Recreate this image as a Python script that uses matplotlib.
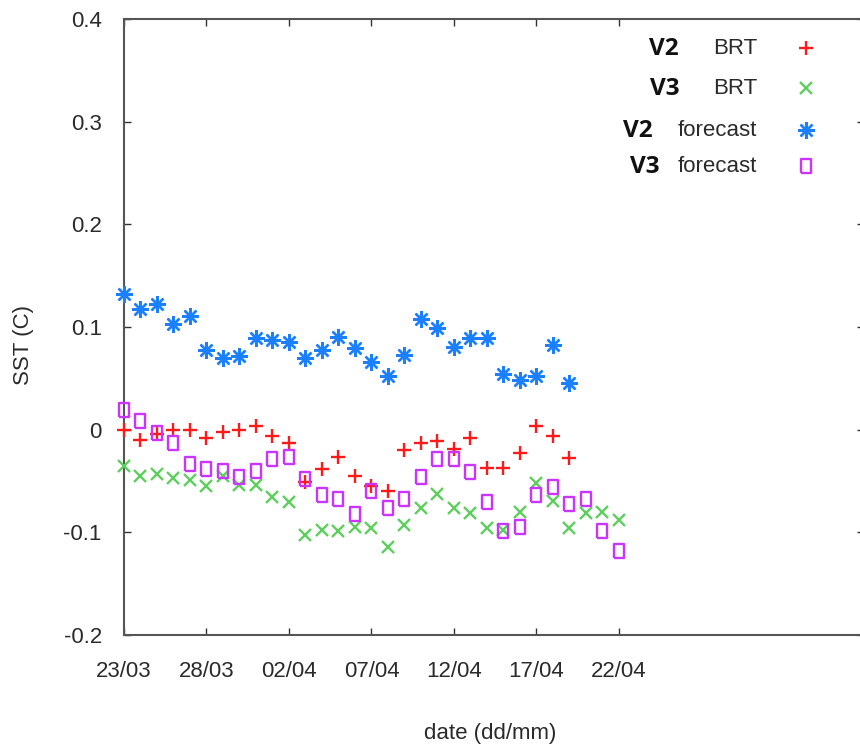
import numpy as np
import pandas as pd
import matplotlib
matplotlib.use("Agg")
import matplotlib.pyplot as plt
import matplotlib.dates as mdates

# daily SST differences
dates_v2 = pd.date_range("2015-03-23", periods=28, freq="D")
dates_v3 = pd.date_range("2015-03-23", periods=31, freq="D")

v2_brt = [0.000, -0.010, -0.004, 0.000, 0.000, -0.008, -0.002, 0.000, 0.004, -0.006,
          -0.013, -0.051, -0.038, -0.027, -0.045, -0.055, -0.060, -0.020, -0.013, -0.011,
          -0.019, -0.008, -0.037, -0.037, -0.023, 0.004, -0.006, -0.028]
v3_brt = [-0.035, -0.045, -0.043, -0.047, -0.049, -0.055, -0.045, -0.054, -0.054, -0.066,
          -0.070, -0.103, -0.098, -0.099, -0.095, -0.096, -0.114, -0.093, -0.076, -0.063,
          -0.076, -0.081, -0.096, -0.098, -0.080, -0.052, -0.069, -0.096, -0.081, -0.080,
          -0.088]
v2_fc = [0.132, 0.118, 0.122, 0.103, 0.111, 0.078, 0.070, 0.072, 0.089, 0.087,
         0.085, 0.070, 0.078, 0.090, 0.080, 0.066, 0.052, 0.073, 0.108, 0.099,
         0.081, 0.089, 0.089, 0.054, 0.048, 0.052, 0.082, 0.045]
v3_fc = [0.019, 0.008, -0.003, -0.013, -0.033, -0.038, -0.040, -0.046, -0.040, -0.029,
         -0.027, -0.048, -0.064, -0.068, -0.082, -0.060, -0.076, -0.068, -0.046, -0.029,
         -0.029, -0.041, -0.070, -0.099, -0.095, -0.064, -0.056, -0.072, -0.068, -0.099,
         -0.118]

tick_dates = pd.date_range("2015-03-23", "2015-04-22", freq="5D")
yticks = [-0.2, -0.1, 0, 0.1, 0.2, 0.3, 0.4]
ytick_labels = ["-0.2", "-0.1", "0", "0.1", "0.2", "0.3", "0.4"]

W, H = 860, 751
plt.rcParams["font.family"] = ["Liberation Sans", "DejaVu Sans"]
txt = "#2a2a2a"

fig = plt.figure(figsize=(W / 100, H / 100), dpi=100)
ax = fig.add_axes([124 / W, 116 / H, 740 / W, 616 / H])

red, green, blue, purple = "#ff1a1a", "#5ccf5c", "#1a80ff", "#cc33ff"
rect = [(-0.75, -1), (0.75, -1), (0.75, 1), (-0.75, 1), (-0.75, -1)]

styles = [
    dict(marker="+", color=red, ms=9.5, mew=1.7),
    dict(marker="x", color=green, ms=8.5, mew=1.7),
    dict(marker=(8, 2, 0), color=blue, ms=12, mew=1.7),
    dict(marker=rect, color=purple, ms=10.5, mew=1.7, mfc="none"),
]
series = [(dates_v2, v2_brt), (dates_v3, v3_brt), (dates_v2, v2_fc), (dates_v3, v3_fc)]
for (d, v), st in zip(series, styles):
    ax.plot(d, v, ls="none", clip_on=False, zorder=3, **st)

start = mdates.date2num(tick_dates[0])
ax.set_xlim(start, start + 44.85)
ax.set_ylim(-0.2, 0.4)
ax.set_xticks(tick_dates)
ax.xaxis.set_major_formatter(mdates.DateFormatter("%d/%m"))
ax.set_yticks(yticks)
ax.set_yticklabels(ytick_labels)
ax.tick_params(axis="both", direction="in", length=5, width=1.0, color="#333333",
               labelsize=16, labelcolor=txt, top=True, right=True)
ax.tick_params(axis="y", pad=16)
ax.tick_params(axis="x", pad=19)
for s in ax.spines.values():
    s.set_color("#555555")
    s.set_linewidth(1.5)

fig.text(23 / W, 1 - 345 / H, "SST (C)", rotation=90, ha="center", va="center",
         fontsize=16, color=txt)
fig.text(490 / W, 1 - 733 / H, "date (dd/mm)", ha="center", va="center",
         fontsize=16, color=txt)

# hand-made legend, gnuplot style (label right-aligned, sample on the right)
legend_rows = [("V2", "BRT", 679, 48), ("V3", "BRT", 679, 88),
               ("V2", "forecast", 653, 130), ("V3", "forecast", 659, 166)]
for (ver, name, vx, ly), st in zip(legend_rows, styles):
    fig.text(vx / W, 1 - (ly + 1) / H, ver, ha="right", va="center", fontsize=17.5,
             fontweight="bold", family=["Open Sans", "DejaVu Sans"], color="#111111")
    fig.text(757 / W, 1 - ly / H, name, ha="right", va="center", fontsize=16, color=txt)
    ax.plot([806 / W], [1 - ly / H], ls="none", transform=fig.transFigure,
            clip_on=False, **st)

fig.savefig("out.png", dpi=100, facecolor="white")
